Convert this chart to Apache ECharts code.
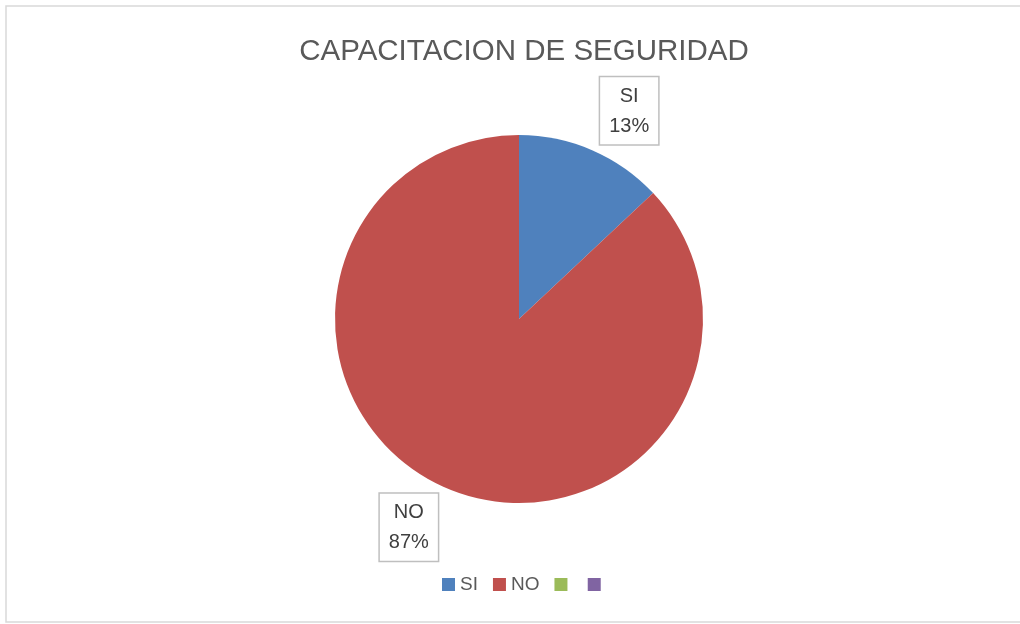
<!DOCTYPE html>
<html>
<head>
<meta charset="utf-8">
<script src="https://cdn.jsdelivr.net/npm/echarts@6/dist/echarts.min.js"></script>
<style>
  html, body { margin: 0; padding: 0; background: #fff; }
  #chart { width: 1020px; height: 624px; }
</style>
</head>
<body>
<div id="chart"></div>
<script>
const titleText = 'CAPACITACION DE SEGURIDAD'
const categories = ['SI', 'NO', '_3', '_4']
const values = [13, 87, 0, 0]
const colors = ['#4F81BD', '#C0504D', '#9BBB59', '#8064A2']

const font = '"Liberation Sans", Arial, sans-serif'
const isBlank = name => name.startsWith('_')

const chart = echarts.init(document.getElementById('chart'))

const option = {
  backgroundColor: '#fff',
  color: colors,
  title: {
    text: titleText,
    left: 519,
    textAlign: 'center',
    top: 32,
    textStyle: { fontFamily: font, fontSize: 29.5, fontWeight: 'normal', color: '#595959' }
  },
  legend: {
    bottom: 25,
    left: 437,
    itemWidth: 13,
    itemHeight: 13,
    itemGap: 15,
    itemTextGap: 6,
    icon: 'rect',
    // the two extra entries have no name in the original
    data: categories.map(name => isBlank(name) ? { name, textStyle: { fontSize: 1 } } : name),
    formatter: name => isBlank(name) ? ' ' : name,
    textStyle: { fontFamily: font, fontSize: 19, color: '#595959' }
  },
  graphic: [{
    type: 'rect',
    shape: { x: 6, y: 6, width: 1030, height: 616 },
    style: { fill: 'none', stroke: '#d9d9d9', lineWidth: 1.5 },
    silent: true
  }],
  series: [{
    type: 'pie',
    center: [519, 319],
    radius: 184,
    startAngle: 90,
    clockwise: true,
    percentPrecision: 0,
    avoidLabelOverlap: false,
    label: {
      position: 'outside',
      formatter: '{c|{b}}\n{c|{d}%}',
      rich: {
        c: { fontFamily: font, fontSize: 20, lineHeight: 30, color: '#404040', width: 40, align: 'center' }
      },
      backgroundColor: '#fff',
      borderColor: '#bfbfbf',
      borderWidth: 1.5,
      padding: [4, 9, 3, 9],
      distanceToLabelLine: -9
    },
    labelLine: { show: false, length: 43, length2: 0 },
    emphasis: { disabled: true },
    data: categories.map((name, i) => ({
      name,
      value: values[i],
      label: isBlank(name) ? { show: false } : undefined
    }))
  }]
}

chart.setOption(option)
</script>
</body>
</html>
